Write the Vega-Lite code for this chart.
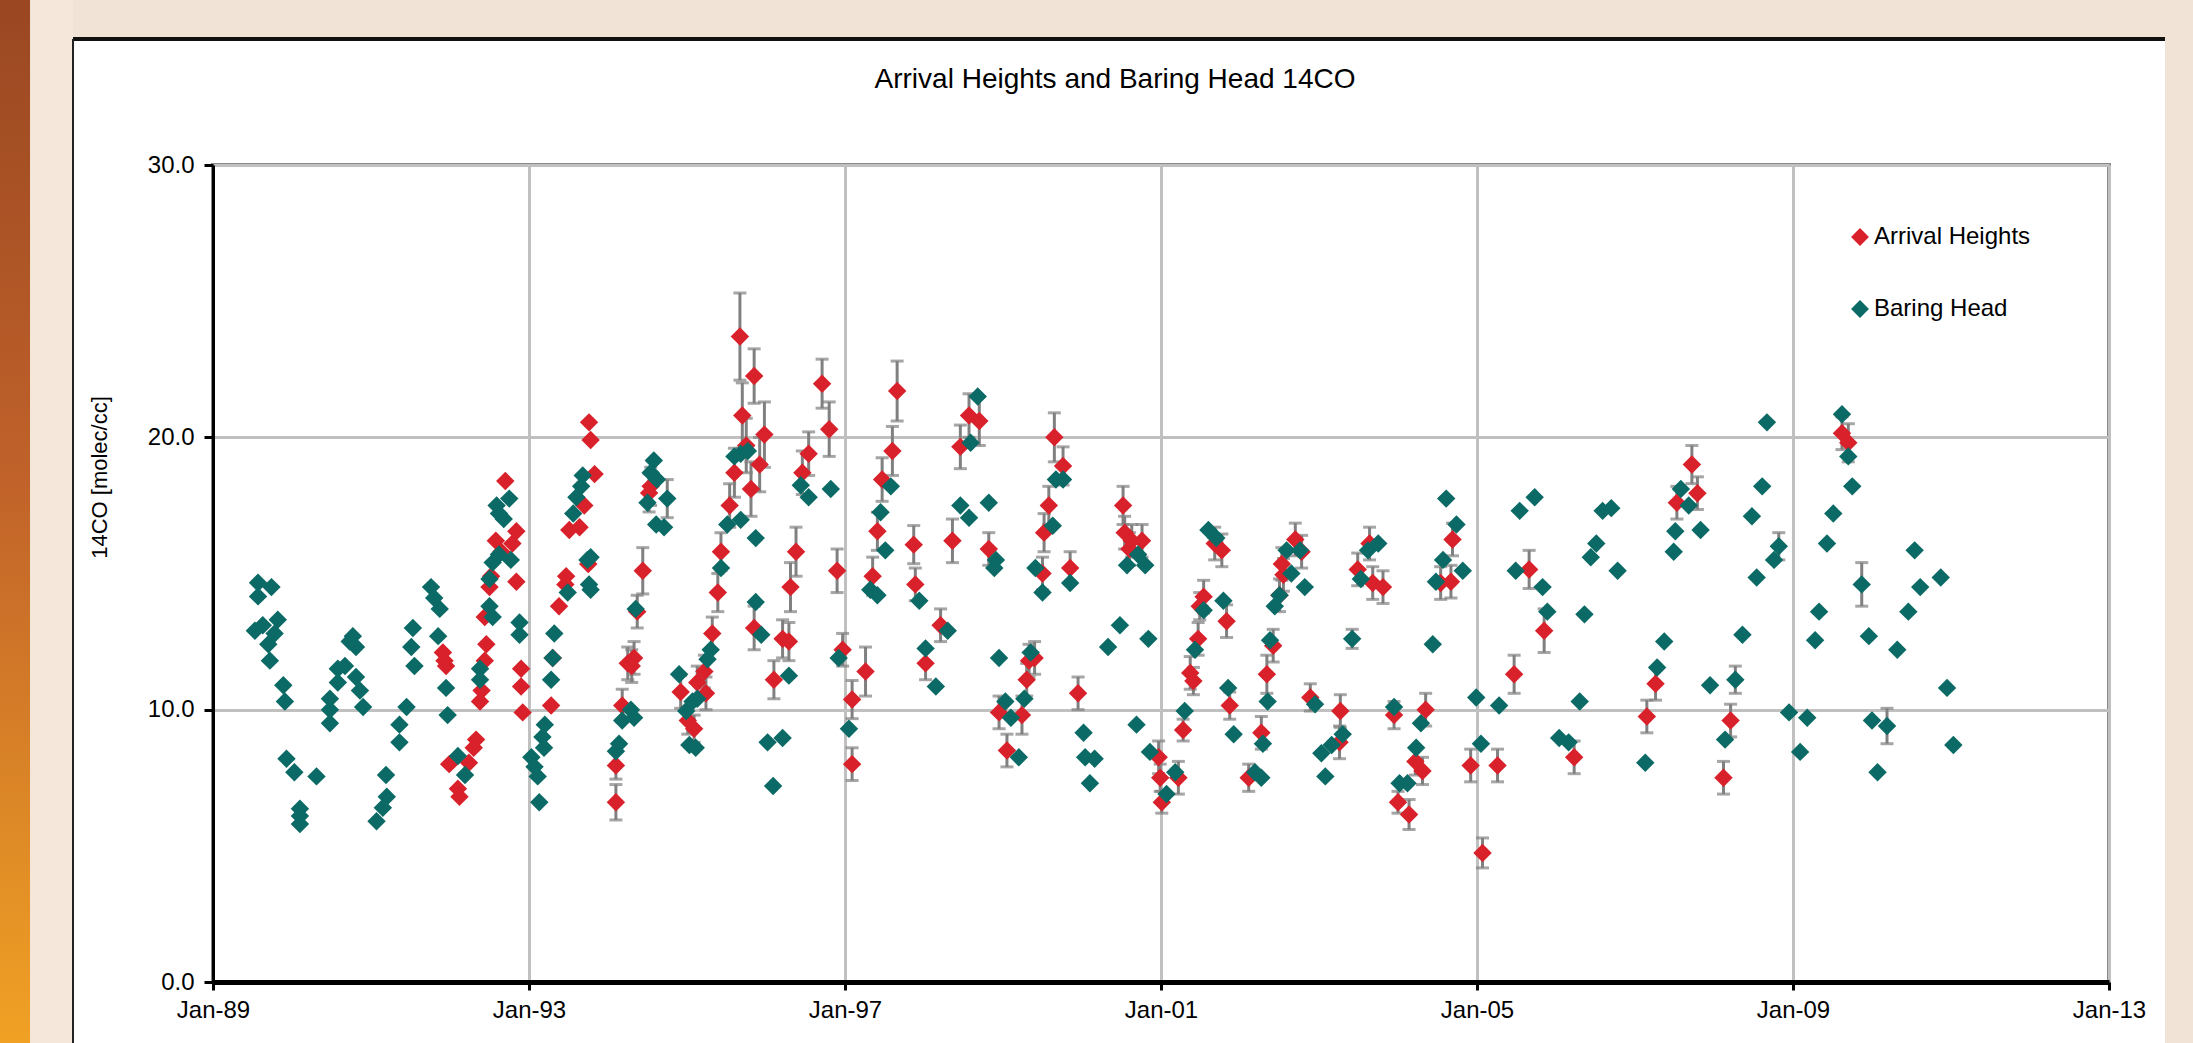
{
  "$schema": "https://vega.github.io/schema/vega-lite/v6.json",
  "width": 1896,
  "height": 817,
  "autosize": "none",
  "padding": {"left": 213, "top": 165, "right": 84, "bottom": 61},
  "background": "white",
  "title": {"text": "Arrival Heights and Baring Head 14CO", "fontSize": 28, "fontWeight": "normal", "font": "Liberation Sans", "color": "black", "offset": 0, "dx": -46, "dy": 94, "frame": "group", "anchor": "middle"},
  "config": {
    "font": "Liberation Sans",
    "view": {"stroke": "#8a8a8a", "strokeWidth": 4},
    "axis": {"labelFont": "Liberation Sans", "labelFontSize": 24, "labelColor": "black", "titleFont": "Liberation Sans", "titleColor": "black", "titleFontWeight": "normal", "gridColor": "#c0c0c0", "gridWidth": 3, "gridOpacity": 1, "tickColor": "black", "tickWidth": 3, "domainColor": "black"}
  },
  "datasets": {
    "obs": [
      {"s":"Arrival Heights","yr":1991.91,"v":12.1,"err":0},
      {"s":"Arrival Heights","yr":1991.93,"v":11.8,"err":0},
      {"s":"Arrival Heights","yr":1991.95,"v":11.6,"err":0},
      {"s":"Arrival Heights","yr":1991.99,"v":8.0,"err":0},
      {"s":"Arrival Heights","yr":1992.1,"v":7.1,"err":0},
      {"s":"Arrival Heights","yr":1992.12,"v":6.8,"err":0},
      {"s":"Arrival Heights","yr":1992.33,"v":8.9,"err":0},
      {"s":"Arrival Heights","yr":1992.3,"v":8.6,"err":0},
      {"s":"Arrival Heights","yr":1992.24,"v":8.05,"err":0},
      {"s":"Arrival Heights","yr":1992.38,"v":10.3,"err":0},
      {"s":"Arrival Heights","yr":1992.4,"v":10.7,"err":0},
      {"s":"Arrival Heights","yr":1992.44,"v":11.8,"err":0},
      {"s":"Arrival Heights","yr":1992.46,"v":12.4,"err":0},
      {"s":"Arrival Heights","yr":1992.44,"v":13.4,"err":0},
      {"s":"Arrival Heights","yr":1992.5,"v":14.5,"err":0},
      {"s":"Arrival Heights","yr":1992.52,"v":14.9,"err":0},
      {"s":"Arrival Heights","yr":1992.58,"v":16.2,"err":0},
      {"s":"Arrival Heights","yr":1992.65,"v":15.8,"err":0},
      {"s":"Arrival Heights","yr":1992.7,"v":18.4,"err":0},
      {"s":"Arrival Heights","yr":1992.79,"v":16.1,"err":0},
      {"s":"Arrival Heights","yr":1992.84,"v":16.55,"err":0},
      {"s":"Arrival Heights","yr":1992.84,"v":14.7,"err":0},
      {"s":"Arrival Heights","yr":1992.9,"v":11.5,"err":0},
      {"s":"Arrival Heights","yr":1992.9,"v":10.85,"err":0},
      {"s":"Arrival Heights","yr":1992.92,"v":9.9,"err":0},
      {"s":"Arrival Heights","yr":1993.28,"v":10.15,"err":0},
      {"s":"Arrival Heights","yr":1993.3,"v":11.9,"err":0},
      {"s":"Arrival Heights","yr":1993.38,"v":13.8,"err":0},
      {"s":"Arrival Heights","yr":1993.47,"v":14.9,"err":0},
      {"s":"Arrival Heights","yr":1993.46,"v":14.6,"err":0},
      {"s":"Arrival Heights","yr":1993.51,"v":16.6,"err":0},
      {"s":"Arrival Heights","yr":1993.64,"v":16.7,"err":0},
      {"s":"Arrival Heights","yr":1993.7,"v":17.5,"err":0},
      {"s":"Arrival Heights","yr":1993.83,"v":18.65,"err":0},
      {"s":"Arrival Heights","yr":1993.76,"v":20.55,"err":0},
      {"s":"Arrival Heights","yr":1993.78,"v":19.9,"err":0},
      {"s":"Arrival Heights","yr":1993.75,"v":15.35,"err":0},
      {"s":"Arrival Heights","yr":1994.1,"v":6.6,"err":0.65},
      {"s":"Arrival Heights","yr":1994.1,"v":7.95,"err":0.5},
      {"s":"Arrival Heights","yr":1994.18,"v":10.15,"err":0.6},
      {"s":"Arrival Heights","yr":1994.25,"v":11.7,"err":0.6},
      {"s":"Arrival Heights","yr":1994.33,"v":11.9,"err":0.6},
      {"s":"Arrival Heights","yr":1994.3,"v":11.6,"err":0.6},
      {"s":"Arrival Heights","yr":1994.37,"v":13.6,"err":0.6},
      {"s":"Arrival Heights","yr":1994.44,"v":15.1,"err":0.85},
      {"s":"Arrival Heights","yr":1994.54,"v":18.2,"err":0.7},
      {"s":"Arrival Heights","yr":1994.52,"v":17.96,"err":0.7},
      {"s":"Arrival Heights","yr":1994.92,"v":10.65,"err":0.6},
      {"s":"Arrival Heights","yr":1995.01,"v":9.6,"err":0.5},
      {"s":"Arrival Heights","yr":1995.09,"v":9.3,"err":0.5},
      {"s":"Arrival Heights","yr":1995.13,"v":11.0,"err":0.6},
      {"s":"Arrival Heights","yr":1995.24,"v":10.6,"err":0.6},
      {"s":"Arrival Heights","yr":1995.22,"v":11.4,"err":0.6},
      {"s":"Arrival Heights","yr":1995.32,"v":12.8,"err":0.6},
      {"s":"Arrival Heights","yr":1995.39,"v":14.3,"err":0.7},
      {"s":"Arrival Heights","yr":1995.43,"v":15.8,"err":0.7},
      {"s":"Arrival Heights","yr":1995.54,"v":17.5,"err":0.8},
      {"s":"Arrival Heights","yr":1995.6,"v":18.7,"err":0.9},
      {"s":"Arrival Heights","yr":1995.67,"v":23.7,"err":1.6},
      {"s":"Arrival Heights","yr":1995.7,"v":20.8,"err":1.2},
      {"s":"Arrival Heights","yr":1995.75,"v":19.7,"err":1.0},
      {"s":"Arrival Heights","yr":1995.85,"v":22.25,"err":1.0},
      {"s":"Arrival Heights","yr":1995.81,"v":18.1,"err":1.0},
      {"s":"Arrival Heights","yr":1995.92,"v":19.0,"err":1.0},
      {"s":"Arrival Heights","yr":1995.98,"v":20.1,"err":1.2},
      {"s":"Arrival Heights","yr":1995.85,"v":13.0,"err":0.8},
      {"s":"Arrival Heights","yr":1996.1,"v":11.1,"err":0.7},
      {"s":"Arrival Heights","yr":1996.21,"v":12.6,"err":0.7},
      {"s":"Arrival Heights","yr":1996.29,"v":12.5,"err":0.7},
      {"s":"Arrival Heights","yr":1996.31,"v":14.5,"err":0.9},
      {"s":"Arrival Heights","yr":1996.38,"v":15.8,"err":0.9},
      {"s":"Arrival Heights","yr":1996.46,"v":18.7,"err":0.8},
      {"s":"Arrival Heights","yr":1996.54,"v":19.4,"err":0.8},
      {"s":"Arrival Heights","yr":1996.71,"v":21.97,"err":0.9},
      {"s":"Arrival Heights","yr":1996.8,"v":20.3,"err":1.0},
      {"s":"Arrival Heights","yr":1996.9,"v":15.1,"err":0.8},
      {"s":"Arrival Heights","yr":1996.97,"v":12.2,"err":0.6},
      {"s":"Arrival Heights","yr":1997.09,"v":10.37,"err":0.7},
      {"s":"Arrival Heights","yr":1997.26,"v":11.4,"err":0.9},
      {"s":"Arrival Heights","yr":1997.09,"v":8.0,"err":0.6},
      {"s":"Arrival Heights","yr":1997.35,"v":14.9,"err":0.7},
      {"s":"Arrival Heights","yr":1997.41,"v":16.55,"err":0.7},
      {"s":"Arrival Heights","yr":1997.47,"v":18.45,"err":0.8},
      {"s":"Arrival Heights","yr":1997.6,"v":19.5,"err":0.9},
      {"s":"Arrival Heights","yr":1997.66,"v":21.7,"err":1.1},
      {"s":"Arrival Heights","yr":1997.87,"v":16.06,"err":0.7},
      {"s":"Arrival Heights","yr":1997.89,"v":14.6,"err":0.6},
      {"s":"Arrival Heights","yr":1998.02,"v":11.7,"err":0.6},
      {"s":"Arrival Heights","yr":1998.21,"v":13.1,"err":0.6},
      {"s":"Arrival Heights","yr":1998.36,"v":16.2,"err":0.8},
      {"s":"Arrival Heights","yr":1998.46,"v":19.65,"err":0.8},
      {"s":"Arrival Heights","yr":1998.57,"v":20.8,"err":0.8},
      {"s":"Arrival Heights","yr":1998.7,"v":20.6,"err":0.9},
      {"s":"Arrival Heights","yr":1998.82,"v":15.9,"err":0.6},
      {"s":"Arrival Heights","yr":1999.05,"v":8.5,"err":0.6},
      {"s":"Arrival Heights","yr":1998.95,"v":9.9,"err":0.6},
      {"s":"Arrival Heights","yr":1999.24,"v":9.8,"err":0.7},
      {"s":"Arrival Heights","yr":1999.3,"v":11.1,"err":0.6},
      {"s":"Arrival Heights","yr":1999.33,"v":11.8,"err":0.6},
      {"s":"Arrival Heights","yr":1999.4,"v":11.9,"err":0.6},
      {"s":"Arrival Heights","yr":1999.52,"v":16.5,"err":0.7},
      {"s":"Arrival Heights","yr":1999.58,"v":17.5,"err":0.7},
      {"s":"Arrival Heights","yr":1999.65,"v":20.0,"err":0.9},
      {"s":"Arrival Heights","yr":1999.5,"v":15.0,"err":0.6},
      {"s":"Arrival Heights","yr":1999.76,"v":18.95,"err":0.7},
      {"s":"Arrival Heights","yr":1999.85,"v":15.2,"err":0.6},
      {"s":"Arrival Heights","yr":1999.95,"v":10.6,"err":0.6},
      {"s":"Arrival Heights","yr":2000.52,"v":17.5,"err":0.7},
      {"s":"Arrival Heights","yr":2000.54,"v":16.5,"err":0.6},
      {"s":"Arrival Heights","yr":2000.63,"v":16.2,"err":0.6},
      {"s":"Arrival Heights","yr":2000.76,"v":16.2,"err":0.6},
      {"s":"Arrival Heights","yr":2000.6,"v":15.9,"err":0.6},
      {"s":"Arrival Heights","yr":2000.97,"v":8.25,"err":0.6},
      {"s":"Arrival Heights","yr":2000.99,"v":7.5,"err":0.5},
      {"s":"Arrival Heights","yr":2001.01,"v":6.6,"err":0.4},
      {"s":"Arrival Heights","yr":2001.22,"v":7.5,"err":0.6},
      {"s":"Arrival Heights","yr":2001.28,"v":9.25,"err":0.4},
      {"s":"Arrival Heights","yr":2001.37,"v":11.35,"err":0.6},
      {"s":"Arrival Heights","yr":2001.41,"v":11.05,"err":0.5},
      {"s":"Arrival Heights","yr":2001.47,"v":12.6,"err":0.6},
      {"s":"Arrival Heights","yr":2001.49,"v":13.8,"err":0.5},
      {"s":"Arrival Heights","yr":2001.54,"v":14.15,"err":0.6},
      {"s":"Arrival Heights","yr":2001.68,"v":16.1,"err":0.6},
      {"s":"Arrival Heights","yr":2001.77,"v":15.85,"err":0.6},
      {"s":"Arrival Heights","yr":2001.83,"v":13.25,"err":0.6},
      {"s":"Arrival Heights","yr":2001.87,"v":10.15,"err":0.5},
      {"s":"Arrival Heights","yr":2002.11,"v":7.5,"err":0.5},
      {"s":"Arrival Heights","yr":2002.27,"v":9.15,"err":0.6},
      {"s":"Arrival Heights","yr":2002.34,"v":11.3,"err":0.7},
      {"s":"Arrival Heights","yr":2002.42,"v":12.35,"err":0.6},
      {"s":"Arrival Heights","yr":2002.55,"v":14.95,"err":0.6},
      {"s":"Arrival Heights","yr":2002.53,"v":15.35,"err":0.6},
      {"s":"Arrival Heights","yr":2002.5,"v":14.2,"err":0.6},
      {"s":"Arrival Heights","yr":2002.7,"v":16.25,"err":0.6},
      {"s":"Arrival Heights","yr":2002.78,"v":15.8,"err":0.6},
      {"s":"Arrival Heights","yr":2002.89,"v":10.45,"err":0.5},
      {"s":"Arrival Heights","yr":2003.27,"v":9.95,"err":0.6},
      {"s":"Arrival Heights","yr":2003.26,"v":8.8,"err":0.6},
      {"s":"Arrival Heights","yr":2003.49,"v":15.15,"err":0.6},
      {"s":"Arrival Heights","yr":2003.68,"v":14.65,"err":0.6},
      {"s":"Arrival Heights","yr":2003.81,"v":14.5,"err":0.6},
      {"s":"Arrival Heights","yr":2003.64,"v":16.1,"err":0.6},
      {"s":"Arrival Heights","yr":2003.95,"v":9.8,"err":0.5},
      {"s":"Arrival Heights","yr":2004.0,"v":6.6,"err":0.4},
      {"s":"Arrival Heights","yr":2004.14,"v":6.15,"err":0.55},
      {"s":"Arrival Heights","yr":2004.22,"v":8.1,"err":0.5},
      {"s":"Arrival Heights","yr":2004.31,"v":7.75,"err":0.5},
      {"s":"Arrival Heights","yr":2004.35,"v":10.0,"err":0.6},
      {"s":"Arrival Heights","yr":2004.54,"v":14.65,"err":0.6},
      {"s":"Arrival Heights","yr":2004.67,"v":14.7,"err":0.6},
      {"s":"Arrival Heights","yr":2004.69,"v":16.25,"err":0.6},
      {"s":"Arrival Heights","yr":2004.92,"v":7.95,"err":0.6},
      {"s":"Arrival Heights","yr":2005.07,"v":4.74,"err":0.55},
      {"s":"Arrival Heights","yr":2005.26,"v":7.95,"err":0.6},
      {"s":"Arrival Heights","yr":2005.47,"v":11.3,"err":0.7},
      {"s":"Arrival Heights","yr":2005.66,"v":15.15,"err":0.7},
      {"s":"Arrival Heights","yr":2005.85,"v":12.9,"err":0.8},
      {"s":"Arrival Heights","yr":2006.23,"v":8.25,"err":0.6},
      {"s":"Arrival Heights","yr":2007.15,"v":9.75,"err":0.6},
      {"s":"Arrival Heights","yr":2007.26,"v":10.95,"err":0.6},
      {"s":"Arrival Heights","yr":2007.53,"v":17.6,"err":0.6},
      {"s":"Arrival Heights","yr":2007.72,"v":19.0,"err":0.7},
      {"s":"Arrival Heights","yr":2007.79,"v":17.95,"err":0.6},
      {"s":"Arrival Heights","yr":2008.12,"v":7.5,"err":0.6},
      {"s":"Arrival Heights","yr":2008.21,"v":9.6,"err":0.6},
      {"s":"Arrival Heights","yr":2009.62,"v":20.15,"err":0.6},
      {"s":"Arrival Heights","yr":2009.7,"v":19.8,"err":0.7},
      {"s":"Baring Head","yr":1989.57,"v":14.66,"err":0},
      {"s":"Baring Head","yr":1989.74,"v":14.5,"err":0},
      {"s":"Baring Head","yr":1989.57,"v":14.16,"err":0},
      {"s":"Baring Head","yr":1989.53,"v":12.9,"err":0},
      {"s":"Baring Head","yr":1989.63,"v":13.1,"err":0},
      {"s":"Baring Head","yr":1989.82,"v":13.3,"err":0},
      {"s":"Baring Head","yr":1989.78,"v":12.8,"err":0},
      {"s":"Baring Head","yr":1989.7,"v":12.4,"err":0},
      {"s":"Baring Head","yr":1989.72,"v":11.8,"err":0},
      {"s":"Baring Head","yr":1989.89,"v":10.9,"err":0},
      {"s":"Baring Head","yr":1989.91,"v":10.3,"err":0},
      {"s":"Baring Head","yr":1989.93,"v":8.2,"err":0},
      {"s":"Baring Head","yr":1990.03,"v":7.7,"err":0},
      {"s":"Baring Head","yr":1990.31,"v":7.55,"err":0},
      {"s":"Baring Head","yr":1990.1,"v":6.36,"err":0},
      {"s":"Baring Head","yr":1990.1,"v":6.1,"err":0},
      {"s":"Baring Head","yr":1990.1,"v":5.8,"err":0},
      {"s":"Baring Head","yr":1990.58,"v":11.5,"err":0},
      {"s":"Baring Head","yr":1990.67,"v":11.6,"err":0},
      {"s":"Baring Head","yr":1990.58,"v":11.0,"err":0},
      {"s":"Baring Head","yr":1990.77,"v":12.7,"err":0},
      {"s":"Baring Head","yr":1990.81,"v":12.3,"err":0},
      {"s":"Baring Head","yr":1990.73,"v":12.5,"err":0},
      {"s":"Baring Head","yr":1990.81,"v":11.2,"err":0},
      {"s":"Baring Head","yr":1990.86,"v":10.7,"err":0},
      {"s":"Baring Head","yr":1990.9,"v":10.1,"err":0},
      {"s":"Baring Head","yr":1990.48,"v":10.4,"err":0},
      {"s":"Baring Head","yr":1990.48,"v":10.0,"err":0},
      {"s":"Baring Head","yr":1990.48,"v":9.5,"err":0},
      {"s":"Baring Head","yr":1991.19,"v":7.6,"err":0},
      {"s":"Baring Head","yr":1991.2,"v":6.8,"err":0},
      {"s":"Baring Head","yr":1991.15,"v":6.4,"err":0},
      {"s":"Baring Head","yr":1991.07,"v":5.9,"err":0},
      {"s":"Baring Head","yr":1991.53,"v":13.0,"err":0},
      {"s":"Baring Head","yr":1991.51,"v":12.3,"err":0},
      {"s":"Baring Head","yr":1991.55,"v":11.6,"err":0},
      {"s":"Baring Head","yr":1991.45,"v":10.1,"err":0},
      {"s":"Baring Head","yr":1991.36,"v":9.45,"err":0},
      {"s":"Baring Head","yr":1991.36,"v":8.8,"err":0},
      {"s":"Baring Head","yr":1991.76,"v":14.5,"err":0},
      {"s":"Baring Head","yr":1991.8,"v":14.1,"err":0},
      {"s":"Baring Head","yr":1991.87,"v":13.7,"err":0},
      {"s":"Baring Head","yr":1991.85,"v":12.7,"err":0},
      {"s":"Baring Head","yr":1991.95,"v":10.8,"err":0},
      {"s":"Baring Head","yr":1991.97,"v":9.8,"err":0},
      {"s":"Baring Head","yr":1992.1,"v":8.3,"err":0},
      {"s":"Baring Head","yr":1992.19,"v":7.6,"err":0},
      {"s":"Baring Head","yr":1992.38,"v":11.5,"err":0},
      {"s":"Baring Head","yr":1992.38,"v":11.1,"err":0},
      {"s":"Baring Head","yr":1992.5,"v":13.8,"err":0},
      {"s":"Baring Head","yr":1992.54,"v":13.4,"err":0},
      {"s":"Baring Head","yr":1992.54,"v":15.4,"err":0},
      {"s":"Baring Head","yr":1992.59,"v":17.5,"err":0},
      {"s":"Baring Head","yr":1992.62,"v":17.2,"err":0},
      {"s":"Baring Head","yr":1992.75,"v":17.75,"err":0},
      {"s":"Baring Head","yr":1992.68,"v":17.0,"err":0},
      {"s":"Baring Head","yr":1992.62,"v":15.7,"err":0},
      {"s":"Baring Head","yr":1992.77,"v":15.5,"err":0},
      {"s":"Baring Head","yr":1992.5,"v":14.8,"err":0},
      {"s":"Baring Head","yr":1992.88,"v":13.2,"err":0},
      {"s":"Baring Head","yr":1992.88,"v":12.75,"err":0},
      {"s":"Baring Head","yr":1993.03,"v":8.25,"err":0},
      {"s":"Baring Head","yr":1993.07,"v":7.9,"err":0},
      {"s":"Baring Head","yr":1993.11,"v":7.55,"err":0},
      {"s":"Baring Head","yr":1993.13,"v":6.6,"err":0},
      {"s":"Baring Head","yr":1993.17,"v":9.0,"err":0},
      {"s":"Baring Head","yr":1993.19,"v":8.6,"err":0},
      {"s":"Baring Head","yr":1993.2,"v":9.45,"err":0},
      {"s":"Baring Head","yr":1993.32,"v":12.8,"err":0},
      {"s":"Baring Head","yr":1993.28,"v":11.1,"err":0},
      {"s":"Baring Head","yr":1993.3,"v":11.9,"err":0},
      {"s":"Baring Head","yr":1993.49,"v":14.3,"err":0},
      {"s":"Baring Head","yr":1993.68,"v":18.6,"err":0},
      {"s":"Baring Head","yr":1993.66,"v":18.2,"err":0},
      {"s":"Baring Head","yr":1993.6,"v":17.8,"err":0},
      {"s":"Baring Head","yr":1993.56,"v":17.2,"err":0},
      {"s":"Baring Head","yr":1993.78,"v":15.6,"err":0},
      {"s":"Baring Head","yr":1993.74,"v":15.5,"err":0},
      {"s":"Baring Head","yr":1993.76,"v":14.6,"err":0},
      {"s":"Baring Head","yr":1993.78,"v":14.4,"err":0},
      {"s":"Baring Head","yr":1994.1,"v":8.47,"err":0},
      {"s":"Baring Head","yr":1994.14,"v":8.75,"err":0},
      {"s":"Baring Head","yr":1994.18,"v":9.6,"err":0},
      {"s":"Baring Head","yr":1994.29,"v":10.0,"err":0},
      {"s":"Baring Head","yr":1994.33,"v":9.7,"err":0},
      {"s":"Baring Head","yr":1994.35,"v":13.7,"err":0},
      {"s":"Baring Head","yr":1994.58,"v":19.15,"err":0},
      {"s":"Baring Head","yr":1994.54,"v":18.7,"err":0},
      {"s":"Baring Head","yr":1994.62,"v":18.45,"err":0},
      {"s":"Baring Head","yr":1994.5,"v":17.6,"err":0},
      {"s":"Baring Head","yr":1994.75,"v":17.75,"err":0.7},
      {"s":"Baring Head","yr":1994.61,"v":16.8,"err":0},
      {"s":"Baring Head","yr":1994.71,"v":16.7,"err":0},
      {"s":"Baring Head","yr":1994.9,"v":11.3,"err":0},
      {"s":"Baring Head","yr":1994.99,"v":9.95,"err":0},
      {"s":"Baring Head","yr":1995.07,"v":10.3,"err":0},
      {"s":"Baring Head","yr":1995.13,"v":10.4,"err":0},
      {"s":"Baring Head","yr":1995.03,"v":8.7,"err":0},
      {"s":"Baring Head","yr":1995.11,"v":8.6,"err":0},
      {"s":"Baring Head","yr":1995.26,"v":11.85,"err":0},
      {"s":"Baring Head","yr":1995.3,"v":12.2,"err":0},
      {"s":"Baring Head","yr":1995.43,"v":15.2,"err":0},
      {"s":"Baring Head","yr":1995.51,"v":16.8,"err":0},
      {"s":"Baring Head","yr":1995.6,"v":19.3,"err":0},
      {"s":"Baring Head","yr":1995.68,"v":19.4,"err":0},
      {"s":"Baring Head","yr":1995.68,"v":16.97,"err":0},
      {"s":"Baring Head","yr":1995.77,"v":19.5,"err":0},
      {"s":"Baring Head","yr":1995.87,"v":16.3,"err":0},
      {"s":"Baring Head","yr":1995.87,"v":13.95,"err":0},
      {"s":"Baring Head","yr":1995.94,"v":12.75,"err":0},
      {"s":"Baring Head","yr":1996.02,"v":8.8,"err":0},
      {"s":"Baring Head","yr":1996.09,"v":7.2,"err":0},
      {"s":"Baring Head","yr":1996.21,"v":8.96,"err":0},
      {"s":"Baring Head","yr":1996.29,"v":11.25,"err":0},
      {"s":"Baring Head","yr":1996.44,"v":18.24,"err":0},
      {"s":"Baring Head","yr":1996.54,"v":17.8,"err":0},
      {"s":"Baring Head","yr":1996.82,"v":18.1,"err":0},
      {"s":"Baring Head","yr":1996.92,"v":11.9,"err":0},
      {"s":"Baring Head","yr":1997.05,"v":9.3,"err":0},
      {"s":"Baring Head","yr":1997.32,"v":14.4,"err":0},
      {"s":"Baring Head","yr":1997.41,"v":14.2,"err":0},
      {"s":"Baring Head","yr":1997.45,"v":17.25,"err":0},
      {"s":"Baring Head","yr":1997.51,"v":15.85,"err":0},
      {"s":"Baring Head","yr":1997.58,"v":18.2,"err":0},
      {"s":"Baring Head","yr":1997.94,"v":14.0,"err":0},
      {"s":"Baring Head","yr":1998.02,"v":12.25,"err":0},
      {"s":"Baring Head","yr":1998.15,"v":10.85,"err":0},
      {"s":"Baring Head","yr":1998.3,"v":12.9,"err":0},
      {"s":"Baring Head","yr":1998.46,"v":17.5,"err":0},
      {"s":"Baring Head","yr":1998.57,"v":17.05,"err":0},
      {"s":"Baring Head","yr":1998.59,"v":19.8,"err":0},
      {"s":"Baring Head","yr":1998.68,"v":21.5,"err":0},
      {"s":"Baring Head","yr":1998.82,"v":17.6,"err":0},
      {"s":"Baring Head","yr":1998.91,"v":15.5,"err":0},
      {"s":"Baring Head","yr":1998.89,"v":15.2,"err":0},
      {"s":"Baring Head","yr":1998.95,"v":11.9,"err":0},
      {"s":"Baring Head","yr":1999.03,"v":10.3,"err":0},
      {"s":"Baring Head","yr":1999.1,"v":9.7,"err":0},
      {"s":"Baring Head","yr":1999.2,"v":8.25,"err":0},
      {"s":"Baring Head","yr":1999.27,"v":10.4,"err":0},
      {"s":"Baring Head","yr":1999.35,"v":12.1,"err":0},
      {"s":"Baring Head","yr":1999.41,"v":15.2,"err":0},
      {"s":"Baring Head","yr":1999.5,"v":14.3,"err":0},
      {"s":"Baring Head","yr":1999.63,"v":16.75,"err":0},
      {"s":"Baring Head","yr":1999.67,"v":18.45,"err":0},
      {"s":"Baring Head","yr":1999.76,"v":18.45,"err":0},
      {"s":"Baring Head","yr":1999.85,"v":14.65,"err":0},
      {"s":"Baring Head","yr":2000.57,"v":15.3,"err":0},
      {"s":"Baring Head","yr":2000.71,"v":15.7,"err":0},
      {"s":"Baring Head","yr":2000.8,"v":15.3,"err":0},
      {"s":"Baring Head","yr":2000.33,"v":12.3,"err":0},
      {"s":"Baring Head","yr":2000.48,"v":13.1,"err":0},
      {"s":"Baring Head","yr":2000.84,"v":12.6,"err":0},
      {"s":"Baring Head","yr":2000.02,"v":9.15,"err":0},
      {"s":"Baring Head","yr":2000.04,"v":8.25,"err":0},
      {"s":"Baring Head","yr":2000.16,"v":8.2,"err":0},
      {"s":"Baring Head","yr":2000.1,"v":7.3,"err":0},
      {"s":"Baring Head","yr":2000.69,"v":9.45,"err":0},
      {"s":"Baring Head","yr":2000.86,"v":8.45,"err":0},
      {"s":"Baring Head","yr":2001.07,"v":6.9,"err":0},
      {"s":"Baring Head","yr":2001.18,"v":7.7,"err":0},
      {"s":"Baring Head","yr":2001.3,"v":9.95,"err":0},
      {"s":"Baring Head","yr":2001.43,"v":12.2,"err":0},
      {"s":"Baring Head","yr":2001.54,"v":13.65,"err":0},
      {"s":"Baring Head","yr":2001.6,"v":16.6,"err":0},
      {"s":"Baring Head","yr":2001.7,"v":16.3,"err":0},
      {"s":"Baring Head","yr":2001.79,"v":14.0,"err":0},
      {"s":"Baring Head","yr":2001.85,"v":10.8,"err":0},
      {"s":"Baring Head","yr":2001.92,"v":9.1,"err":0},
      {"s":"Baring Head","yr":2002.19,"v":7.7,"err":0},
      {"s":"Baring Head","yr":2002.27,"v":7.5,"err":0},
      {"s":"Baring Head","yr":2002.29,"v":8.75,"err":0},
      {"s":"Baring Head","yr":2002.35,"v":10.3,"err":0},
      {"s":"Baring Head","yr":2002.38,"v":12.55,"err":0},
      {"s":"Baring Head","yr":2002.44,"v":13.8,"err":0},
      {"s":"Baring Head","yr":2002.5,"v":14.2,"err":0},
      {"s":"Baring Head","yr":2002.59,"v":15.85,"err":0},
      {"s":"Baring Head","yr":2002.65,"v":15.0,"err":0},
      {"s":"Baring Head","yr":2002.76,"v":15.85,"err":0},
      {"s":"Baring Head","yr":2002.82,"v":14.5,"err":0},
      {"s":"Baring Head","yr":2002.95,"v":10.2,"err":0},
      {"s":"Baring Head","yr":2003.03,"v":8.4,"err":0},
      {"s":"Baring Head","yr":2003.08,"v":7.55,"err":0},
      {"s":"Baring Head","yr":2003.16,"v":8.7,"err":0},
      {"s":"Baring Head","yr":2003.3,"v":9.1,"err":0},
      {"s":"Baring Head","yr":2003.42,"v":12.6,"err":0.35},
      {"s":"Baring Head","yr":2003.53,"v":14.8,"err":0},
      {"s":"Baring Head","yr":2003.62,"v":15.85,"err":0},
      {"s":"Baring Head","yr":2003.75,"v":16.1,"err":0},
      {"s":"Baring Head","yr":2003.95,"v":10.1,"err":0},
      {"s":"Baring Head","yr":2004.02,"v":7.3,"err":0},
      {"s":"Baring Head","yr":2004.12,"v":7.3,"err":0},
      {"s":"Baring Head","yr":2004.23,"v":8.6,"err":0},
      {"s":"Baring Head","yr":2004.29,"v":9.5,"err":0},
      {"s":"Baring Head","yr":2004.44,"v":12.4,"err":0},
      {"s":"Baring Head","yr":2004.48,"v":14.7,"err":0},
      {"s":"Baring Head","yr":2004.57,"v":15.5,"err":0},
      {"s":"Baring Head","yr":2004.61,"v":17.75,"err":0},
      {"s":"Baring Head","yr":2004.74,"v":16.8,"err":0},
      {"s":"Baring Head","yr":2004.82,"v":15.1,"err":0},
      {"s":"Baring Head","yr":2004.99,"v":10.45,"err":0},
      {"s":"Baring Head","yr":2005.05,"v":8.75,"err":0},
      {"s":"Baring Head","yr":2005.28,"v":10.15,"err":0},
      {"s":"Baring Head","yr":2005.49,"v":15.1,"err":0},
      {"s":"Baring Head","yr":2005.54,"v":17.3,"err":0},
      {"s":"Baring Head","yr":2005.73,"v":17.8,"err":0},
      {"s":"Baring Head","yr":2005.83,"v":14.5,"err":0},
      {"s":"Baring Head","yr":2005.89,"v":13.6,"err":0},
      {"s":"Baring Head","yr":2006.04,"v":8.96,"err":0},
      {"s":"Baring Head","yr":2006.16,"v":8.8,"err":0},
      {"s":"Baring Head","yr":2006.3,"v":10.3,"err":0},
      {"s":"Baring Head","yr":2006.36,"v":13.5,"err":0},
      {"s":"Baring Head","yr":2006.44,"v":15.6,"err":0},
      {"s":"Baring Head","yr":2006.51,"v":16.1,"err":0},
      {"s":"Baring Head","yr":2006.59,"v":17.3,"err":0},
      {"s":"Baring Head","yr":2006.7,"v":17.4,"err":0},
      {"s":"Baring Head","yr":2006.78,"v":15.1,"err":0},
      {"s":"Baring Head","yr":2007.13,"v":8.05,"err":0},
      {"s":"Baring Head","yr":2007.28,"v":11.55,"err":0},
      {"s":"Baring Head","yr":2007.37,"v":12.5,"err":0},
      {"s":"Baring Head","yr":2007.51,"v":16.55,"err":0},
      {"s":"Baring Head","yr":2007.49,"v":15.8,"err":0},
      {"s":"Baring Head","yr":2007.58,"v":18.1,"err":0},
      {"s":"Baring Head","yr":2007.68,"v":17.5,"err":0},
      {"s":"Baring Head","yr":2007.83,"v":16.6,"err":0},
      {"s":"Baring Head","yr":2007.95,"v":10.9,"err":0},
      {"s":"Baring Head","yr":2008.14,"v":8.9,"err":0},
      {"s":"Baring Head","yr":2008.27,"v":11.1,"err":0.5},
      {"s":"Baring Head","yr":2008.36,"v":12.75,"err":0},
      {"s":"Baring Head","yr":2008.48,"v":17.1,"err":0},
      {"s":"Baring Head","yr":2008.54,"v":14.85,"err":0},
      {"s":"Baring Head","yr":2008.61,"v":18.2,"err":0},
      {"s":"Baring Head","yr":2008.67,"v":20.55,"err":0},
      {"s":"Baring Head","yr":2008.76,"v":15.5,"err":0},
      {"s":"Baring Head","yr":2008.82,"v":16.0,"err":0.5},
      {"s":"Baring Head","yr":2008.95,"v":9.9,"err":0},
      {"s":"Baring Head","yr":2009.09,"v":8.45,"err":0},
      {"s":"Baring Head","yr":2009.18,"v":9.7,"err":0},
      {"s":"Baring Head","yr":2009.28,"v":12.55,"err":0},
      {"s":"Baring Head","yr":2009.33,"v":13.6,"err":0},
      {"s":"Baring Head","yr":2009.43,"v":16.1,"err":0},
      {"s":"Baring Head","yr":2009.51,"v":17.2,"err":0},
      {"s":"Baring Head","yr":2009.62,"v":20.85,"err":0},
      {"s":"Baring Head","yr":2009.7,"v":19.3,"err":0},
      {"s":"Baring Head","yr":2009.75,"v":18.2,"err":0},
      {"s":"Baring Head","yr":2009.87,"v":14.6,"err":0.8},
      {"s":"Baring Head","yr":2009.96,"v":12.7,"err":0},
      {"s":"Baring Head","yr":2010.0,"v":9.6,"err":0},
      {"s":"Baring Head","yr":2010.07,"v":7.7,"err":0},
      {"s":"Baring Head","yr":2010.19,"v":9.4,"err":0.65},
      {"s":"Baring Head","yr":2010.32,"v":12.2,"err":0},
      {"s":"Baring Head","yr":2010.46,"v":13.6,"err":0},
      {"s":"Baring Head","yr":2010.54,"v":15.85,"err":0},
      {"s":"Baring Head","yr":2010.61,"v":14.5,"err":0},
      {"s":"Baring Head","yr":2010.87,"v":14.85,"err":0},
      {"s":"Baring Head","yr":2010.95,"v":10.8,"err":0},
      {"s":"Baring Head","yr":2011.03,"v":8.7,"err":0}
    ]
  },
  "layer": [
    {
      "data": {"values": [{}]},
      "mark": {"type": "rect", "color": "#f2e3d7"},
      "encoding": {"x": {"datum": 1985, "type": "quantitative"}, "x2": {"datum": 2016}, "y": {"datum": 34.63, "type": "quantitative"}, "y2": {"datum": 36.06}}
    },
    {
      "data": {"values": [{}]},
      "mark": {"type": "rect", "color": "#f5e8da"},
      "encoding": {"x": {"datum": 1985, "type": "quantitative"}, "x2": {"datum": 1987.228}, "y": {"datum": -3, "type": "quantitative"}, "y2": {"datum": 36.06}}
    },
    {
      "data": {"values": [{}]},
      "mark": {"type": "rect", "color": "#f2e3d7"},
      "encoding": {"x": {"datum": 2013.709, "type": "quantitative"}, "x2": {"datum": 2016}, "y": {"datum": -3, "type": "quantitative"}, "y2": {"datum": 36.06}}
    },
    {
      "data": {"values": [{}]},
      "mark": {"type": "rect", "color": {"gradient": "linear", "x1": 0, "y1": 0, "x2": 0, "y2": 1, "stops": [{"offset": 0, "color": "#9a4722"}, {"offset": 0.45, "color": "#c0622a"}, {"offset": 1, "color": "#f2a424"}]}},
      "encoding": {"x": {"datum": 1985, "type": "quantitative"}, "x2": {"datum": 1986.684}, "y": {"datum": -3, "type": "quantitative"}, "y2": {"datum": 36.06}}
    },
    {
      "data": {"values": [{}]},
      "mark": {"type": "rule", "color": "#111111", "strokeWidth": 4},
      "encoding": {"x": {"datum": 1987.228, "type": "quantitative"}, "x2": {"datum": 2013.709}, "y": {"datum": 34.63, "type": "quantitative"}}
    },
    {
      "data": {"values": [{}]},
      "mark": {"type": "rule", "color": "#222222", "strokeWidth": 2},
      "encoding": {"x": {"datum": 1987.228, "type": "quantitative"}, "y": {"datum": -3, "type": "quantitative"}, "y2": {"datum": 34.63}}
    },
    {
      "data": {"name": "obs"},
      "transform": [{"filter": "datum.err > 0"}],
      "mark": {"type": "errorbar", "ticks": {"size": 13, "thickness": 3, "color": "#808080"}, "rule": {"strokeWidth": 3, "color": "#808080"}},
      "encoding": {
        "x": {"field": "yr", "type": "quantitative", "title": null},
        "y": {"field": "v", "type": "quantitative", "title": "14CO [molec/cc]"},
        "yError": {"field": "err"}
      }
    },
    {
      "data": {"name": "obs"},
      "mark": {"type": "point", "shape": "diamond", "filled": true, "size": 340, "opacity": 1, "strokeWidth": 0},
      "encoding": {
        "x": {
          "field": "yr", "type": "quantitative", "title": null,
          "scale": {"domain": [1989, 2013], "nice": false, "zero": false},
          "axis": {"title": null, "values": [1989, 1993, 1997, 2001, 2005, 2009, 2013], "labelExpr": "'Jan-' + slice(toString(datum.value), 2)", "grid": true, "tickSize": 8, "labelPadding": 8, "domainWidth": 5, "labelFlush": false, "labelOverlap": false}
        },
        "y": {
          "field": "v", "type": "quantitative", "title": "14CO [molec/cc]",
          "scale": {"domain": [0, 30], "nice": false, "zero": true},
          "axis": {"title": "14CO [molec/cc]", "titleFontSize": 22, "titlePadding": 36, "titleY": 312, "values": [0, 10, 20, 30], "format": ".1f", "grid": true, "tickSize": 9, "labelPadding": 10, "domainWidth": 3}
        },
        "color": {
          "field": "s", "type": "nominal",
          "scale": {"domain": ["Arrival Heights", "Baring Head"], "range": ["#d9212b", "#0b6a65"]},
          "legend": {"title": null, "orient": "none", "legendX": 1635, "legendY": 60, "symbolType": "diamond", "symbolSize": 320, "symbolOpacity": 1, "symbolStrokeWidth": 0, "labelFontSize": 24, "labelFont": "Liberation Sans", "labelColor": "black", "rowPadding": 48, "labelOffset": 2}
        }
      }
    }
  ]
}
